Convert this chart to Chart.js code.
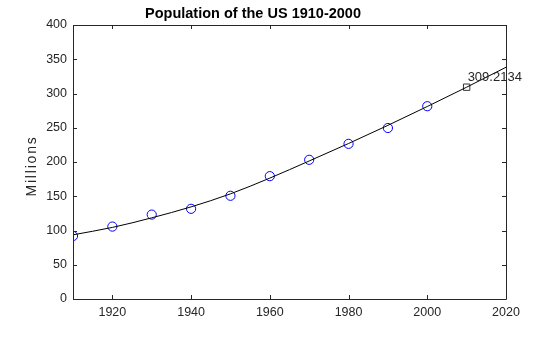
<!DOCTYPE html>
<html>
<head>
<meta charset="utf-8">
<script src="https://cdn.jsdelivr.net/npm/chart.js@4/dist/chart.umd.min.js"></script>
<style>
  html, body { margin: 0; padding: 0; background: #fff; }
  #c { display: block; }
</style>
</head>
<body>
<canvas id="c" width="560" height="337"></canvas>
<script>
// ---- data ----
const censusYears = [1910, 1920, 1930, 1940, 1950, 1960, 1970, 1980, 1990, 2000];
const censusPop = [91.972, 105.711, 123.203, 131.669, 150.697, 179.323, 203.212, 226.505, 249.633, 281.422];
const fitYears = [1910, 1920, 1930, 1940, 1950, 1960, 1970, 1980, 1990, 2000, 2010, 2020];
const fitPop = [93.7, 104.5, 118.5, 134.5, 153.5, 176.5, 201.5, 227, 253.5, 281, 309.2, 338.3];
const predYear = [2010];
const predPop = [309.2134];
const predLabel = ['309.2134'];
const xTicks = [1920, 1940, 1960, 1980, 2000, 2020];
const yTicks = [0, 50, 100, 150, 200, 250, 300, 350, 400];
const titleText = 'Population of the US 1910-2000';
const yTitle = 'Millions';

const FONT = "'Liberation Sans', Arial, Helvetica, sans-serif";
const AXIS = '#262626';

const boxTicks = {
  id: 'boxTicks',
  afterDatasetsDraw(chart) {
    const { ctx, chartArea: a, scales } = chart;
    const L = 4;
    ctx.save();
    ctx.strokeStyle = AXIS;
    ctx.lineWidth = 1;
    ctx.beginPath();
    scales.x.ticks.forEach(t => {
      const px = Math.round(scales.x.getPixelForValue(t.value)) + 0.5;
      ctx.moveTo(px, a.bottom); ctx.lineTo(px, a.bottom - L);
      ctx.moveTo(px, a.top); ctx.lineTo(px, a.top + L);
    });
    scales.y.ticks.forEach(t => {
      const py = Math.round(scales.y.getPixelForValue(t.value)) + 0.5;
      ctx.moveTo(a.left, py); ctx.lineTo(a.left + L, py);
      ctx.moveTo(a.right, py); ctx.lineTo(a.right - L, py);
    });
    ctx.stroke();
    ctx.beginPath();
    ctx.rect(Math.round(a.left) + 0.5, Math.round(a.top) + 0.5,
             Math.round(a.right) - Math.round(a.left), Math.round(a.bottom) - Math.round(a.top));
    ctx.stroke();
    // prediction label
    const meta = chart.getDatasetMeta(2);
    meta.data.forEach((pt, i) => {
      ctx.fillStyle = '#262626';
      ctx.font = '13px ' + FONT;
      ctx.textAlign = 'left';
      ctx.textBaseline = 'middle';
      ctx.fillText(predLabel[i], pt.x + 1, pt.y - 10);
    });
    // y axis title
    ctx.save();
    ctx.translate(32, (a.top + a.bottom) / 2 + 4);
    ctx.rotate(-Math.PI / 2);
    ctx.font = '14px ' + FONT;
    ctx.letterSpacing = '1.8px';
    ctx.fillStyle = AXIS;
    ctx.textAlign = 'center';
    ctx.textBaseline = 'middle';
    ctx.fillText(yTitle, 0, 0);
    ctx.restore();
    ctx.restore();
  }
};

new Chart(document.getElementById('c'), {
  type: 'scatter',
  data: {
    datasets: [
      {
        label: 'fit',
        data: fitYears.map((x, i) => ({ x, y: fitPop[i] })),
        showLine: true,
        borderColor: '#000',
        borderWidth: 1,
        pointRadius: 0,
        cubicInterpolationMode: 'monotone',
        fill: false,
        order: 0
      },
      {
        label: 'census',
        data: censusYears.map((x, i) => ({ x, y: censusPop[i] })),
        showLine: false,
        pointStyle: 'circle',
        pointRadius: 4.6,
        pointBorderWidth: 1,
        pointBorderColor: '#0000ff',
        pointBackgroundColor: 'rgba(0,0,0,0)',
        order: 1
      },
      {
        label: 'prediction',
        data: predYear.map((x, i) => ({ x, y: predPop[i] })),
        showLine: false,
        pointStyle: 'rect',
        pointRadius: 4.5,
        pointBorderWidth: 1,
        pointBorderColor: '#333',
        pointBackgroundColor: 'rgba(0,0,0,0)',
        order: 2
      }
    ]
  },
  options: {
    responsive: false,
    animation: false,
    devicePixelRatio: 1,
    layout: { padding: { left: 0, right: 54, top: 0, bottom: 0 } },
    plugins: {
      legend: { display: false },
      tooltip: { enabled: false },
      title: {
        display: true,
        text: titleText,
        color: '#000',
        font: { family: FONT, size: 14.5, weight: 'bold', lineHeight: 1.2 },
        padding: { top: 5.6, bottom: 2 }
      }
    },
    scales: {
      x: {
        type: 'linear',
        min: 1910,
        max: 2020,
        afterBuildTicks: s => { s.ticks = xTicks.map(v => ({ value: v })); },
        afterFit: s => { s.height = 38; },
        grid: { drawOnChartArea: false, drawTicks: false },
        border: { display: false },
        ticks: {
          color: AXIS,
          padding: 6.5,
          maxRotation: 0,
          autoSkip: false,
          font: { family: FONT, size: 12.5 },
          callback: v => String(v)
        }
      },
      y: {
        type: 'linear',
        min: 0,
        max: 400,
        afterBuildTicks: s => { s.ticks = yTicks.map(v => ({ value: v })); },
        afterFit: s => { s.width = 73; },
        grid: { drawOnChartArea: false, drawTicks: false },
        border: { display: false },
        ticks: {
          color: AXIS,
          padding: 6,
          autoSkip: false,
          font: { family: FONT, size: 12.5 },
          callback: v => String(v)
        }
      }
    }
  },
  plugins: [boxTicks]
});
</script>
</body>
</html>
